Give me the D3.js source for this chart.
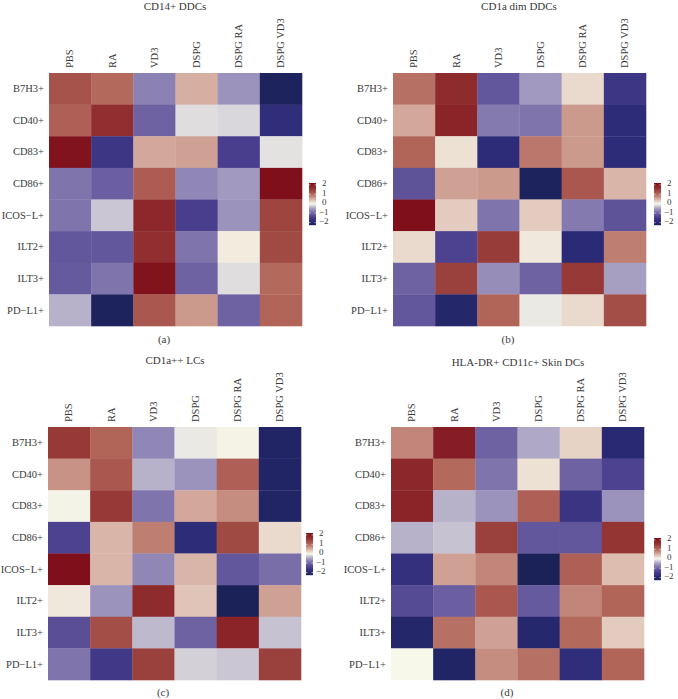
<!DOCTYPE html>
<html>
<head>
<meta charset="utf-8">
<script src="https://cdn.jsdelivr.net/npm/d3@7"></script>
<style>
  html, body { margin: 0; padding: 0; background: #fff; }
  text { font-family: "Liberation Serif", serif; fill: #3a3a3a; }
</style>
</head>
<body>
<div id="chart"></div>
<script>
// Treatments and markers, shared by all four heatmaps
const treatments = ['PBS', 'RA', 'VD3', 'DSPG', 'DSPG RA', 'DSPG VD3'];
const markers = ['B7H3+', 'CD40+', 'CD83+', 'CD86+', 'ICOS\u2212L+', 'ILT2+', 'ILT3+', 'PD\u2212L1+'];
const legendTicks = [2, 1, 0, -1, -2];

// Values (row = marker, column = treatment)
const cd14Values = [
  [1.25, 1.0, -0.75, 0.5, -0.6, -2.2],
  [1.1, 1.7, -1.0, -0.15, -0.18, -1.8],
  [2.1, -1.6, 0.55, 0.6, -1.45, -0.12],
  [-0.85, -1.05, 1.15, -0.7, -0.55, 2.15],
  [-0.85, -0.28, 1.8, -1.45, -0.6, 1.4],
  [-1.15, -1.15, 1.7, -0.85, 0.08, 1.35],
  [-1.1, -0.85, 2.1, -1.0, -0.15, 1.0],
  [-0.4, -2.2, 1.2, 0.65, -1.0, 1.05]
];
const cd1aDimValues = [
  [0.95, 1.75, -1.15, -0.55, 0.2, -1.6],
  [0.55, 1.85, -0.8, -0.85, 0.65, -1.85],
  [1.05, 0.15, -1.85, 0.9, 0.65, -1.85],
  [-1.2, 0.6, 0.65, -2.2, 1.2, 0.45],
  [2.15, 0.3, -0.85, 0.3, -0.8, -1.2],
  [0.2, -1.4, 1.5, 0.1, -1.9, 0.85],
  [-1.0, 1.45, -0.65, -1.0, 1.55, -0.5],
  [-1.15, -2.05, 1.05, -0.08, 0.2, 1.3]
];
const cd1aLcValues = [
  [1.55, 1.05, -0.7, -0.08, 0.03, -2.1],
  [0.7, 1.2, -0.4, -0.6, 1.1, -2.1],
  [-0.02, 1.55, -0.85, 0.55, 0.75, -2.1],
  [-1.4, 0.45, 0.85, -1.85, 1.35, 0.2],
  [2.15, 0.45, -0.7, 0.45, -1.15, -0.9],
  [0.1, -0.6, 1.75, 0.35, -2.25, 0.6],
  [-1.25, 1.3, -0.35, -1.0, 1.85, -0.3],
  [-0.85, -1.55, 1.45, -0.22, -0.28, 1.45]
];
const skinValues = [
  [0.8, 1.95, -1.0, -0.45, 0.25, -1.95],
  [1.8, 1.0, -0.85, 0.15, -1.0, -1.4],
  [1.85, -0.4, -0.6, 1.1, -1.65, -0.6],
  [-0.4, -0.3, 1.45, -1.15, -1.15, 1.6],
  [-1.75, 0.6, 0.8, -2.25, 1.1, 0.4],
  [-1.3, -1.05, 1.2, -1.1, 0.8, 1.05],
  [-2.05, 0.95, 0.6, -2.0, 1.0, 0.3],
  [0, -2.1, 0.75, 0.95, -1.8, 1.05]
];

// Colour ramp, navy through purple and off-white to dark red
const color = d3.scaleLinear()
  .domain([-2.25, -1.9, -1.5, -1, -0.5, 0, 0.5, 1, 1.5, 2.2])
  .range(['#1b2258', '#2a2a76', '#443a8a', '#6f62a3', '#a79fc2', '#f7f7ea', '#d6aea2', '#b4695d', '#983c39', '#7d0c18']);

const svg = d3.select('#chart').append('svg')
  .attr('width', 678)
  .attr('height', 699)
  .style('display', 'block');

// Panel layout
const panels = [
  {title: 'CD14+ DDCs', tag: '(a)', values: cd14Values, left: 49, top: 73, titleX: 175, titleY: 10, tagX: 164, tagY: 343, legendX: 309, legendY: 183},
  {title: 'CD1a dim DDCs', tag: '(b)', values: cd1aDimValues, left: 393, top: 73, titleX: 519, titleY: 10, tagX: 508, tagY: 343, legendX: 654, legendY: 183},
  {title: 'CD1a++ LCs', tag: '(c)', values: cd1aLcValues, left: 48, top: 427, titleX: 175, titleY: 364, tagX: 163, tagY: 696, legendX: 306, legendY: 533},
  {title: 'HLA-DR+ CD11c+ Skin DCs', tag: '(d)', values: skinValues, left: 391, top: 427, titleX: 518, titleY: 366, tagX: 507, tagY: 696, legendX: 654, legendY: 538}
];
const size = 253;

panels.forEach(function(p) {
  const g = svg.append('g').attr('transform', `translate(${p.left},${p.top})`);

  const x = d3.scaleBand().domain(treatments).range([0, size]);
  const y = d3.scaleBand().domain(markers).range([0, size]);

  // Cells
  markers.forEach(function(marker, i) {
    g.selectAll(null)
      .data(p.values[i])
      .enter()
      .append('rect')
      .attr('x', (d, j) => x(treatments[j]))
      .attr('y', y(marker))
      .attr('width', x.bandwidth() + 0.3)
      .attr('height', y.bandwidth() + 0.3)
      .attr('fill', d => color(d));
  });

  // Axes: no lines, text only
  const top = g.append('g')
    .call(d3.axisTop(x).tickSize(0));
  top.select('.domain').remove();
  top.selectAll('text')
    .attr('transform', 'rotate(-90)')
    .attr('x', 5)
    .attr('y', 0)
    .attr('dy', '0.32em')
    .style('text-anchor', 'start')
    .style('font-family', '"Liberation Serif", serif')
    .style('font-size', '10.5px');

  const left = g.append('g')
    .call(d3.axisLeft(y).tickSize(0).tickPadding(5));
  left.select('.domain').remove();
  left.selectAll('text')
    .style('font-family', '"Liberation Serif", serif')
    .style('font-size', '10.5px');

  // Title and panel letter
  svg.append('text')
    .attr('x', p.titleX)
    .attr('y', p.titleY)
    .attr('text-anchor', 'middle')
    .style('font-size', '11px')
    .text(p.title);
  svg.append('text')
    .attr('x', p.tagX)
    .attr('y', p.tagY)
    .attr('text-anchor', 'middle')
    .style('font-size', '11px')
    .text(p.tag);

  // Colour legend
  const legendScale = d3.scaleLinear().domain([2.2, -2.25]).range([0, 42]);
  const legend = svg.append('g').attr('transform', `translate(${p.legendX},${p.legendY})`);
  legend.selectAll('rect')
    .data(d3.range(0, 42))
    .enter()
    .append('rect')
    .attr('x', 0)
    .attr('y', d => d)
    .attr('width', 7)
    .attr('height', 1.2)
    .attr('fill', d => color(legendScale.invert(d + 0.5)));
  legend.selectAll('line')
    .data(legendTicks)
    .enter()
    .append('line')
    .attr('x1', 0)
    .attr('x2', 7)
    .attr('y1', d => legendScale(d))
    .attr('y2', d => legendScale(d))
    .attr('stroke', '#fff')
    .attr('stroke-width', 0.6)
    .attr('stroke-dasharray', '1.5 4');
  legend.selectAll('text')
    .data(legendTicks)
    .enter()
    .append('text')
    .attr('x', d => d < 0 ? 10 : 13)
    .attr('y', d => legendScale(d) - 1.5)
    .attr('dy', '0.32em')
    .style('font-size', '9px')
    .text(d => d < 0 ? '\u2212' + Math.abs(d) : d);
});
</script>
</body>
</html>
